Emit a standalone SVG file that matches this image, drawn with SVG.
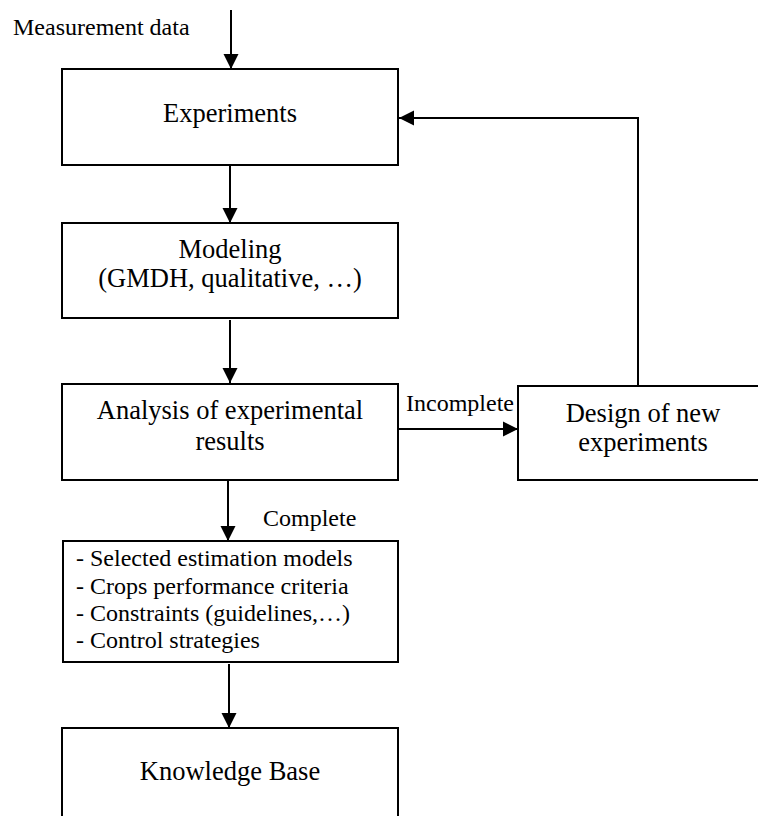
<svg xmlns="http://www.w3.org/2000/svg" width="758" height="816" viewBox="0 0 758 816">
<style>
.box{fill:#fff;stroke:#000;stroke-width:2}
.t{font-family:"Liberation Serif","Times New Roman",serif;font-size:26.5px;fill:#000;text-anchor:middle}
.l{font-family:"Liberation Serif","Times New Roman",serif;font-size:24px;fill:#000}
.c{fill:none;stroke:#000;stroke-width:2;marker-end:url(#ah)}
</style>
<defs>
<marker id="ah" markerUnits="userSpaceOnUse" markerWidth="16" markerHeight="16" refX="15" refY="8" orient="auto">
<path d="M0,0.5 L15,8 L0,15.5 Z" fill="#000"/>
</marker>
</defs>
<g id="connectors">
<line class="c" x1="231" y1="10" x2="231" y2="69"/>
<line class="c" x1="230" y1="166" x2="230" y2="223"/>
<line class="c" x1="230" y1="320" x2="230" y2="383"/>
<line class="c" x1="228" y1="481" x2="228" y2="541"/>
<line class="c" x1="229" y1="664" x2="229" y2="728"/>
<line class="c" x1="398" y1="429" x2="518" y2="429"/>
<polyline class="c" points="638,386 638,118 399,118"/>
</g>
<text class="l" x="13" y="35">Measurement data</text>
<text class="l" x="406" y="411">Incomplete</text>
<text class="l" x="263" y="526">Complete</text>
<g id="experiments">
<rect class="box" x="62" y="69" width="336" height="96"/>
<text class="t" x="230" y="122">Experiments</text>
</g>
<g id="modeling">
<rect class="box" x="62" y="223" width="336" height="95"/>
<text class="t" x="230" y="258">Modeling</text>
<text class="t" x="230" y="287">(GMDH, qualitative, …)</text>
</g>
<g id="analysis">
<rect class="box" x="62" y="384" width="336" height="96"/>
<text class="t" x="230" y="419">Analysis of experimental</text>
<text class="t" x="230" y="450">results</text>
</g>
<g id="design">
<rect class="box" x="518" y="386" width="252" height="94"/>
<text class="t" x="643" y="422">Design of new</text>
<text class="t" x="643" y="451">experiments</text>
</g>
<g id="results">
<rect class="box" x="63" y="541" width="335" height="121"/>
<text class="l" x="76" y="566">- Selected estimation models</text>
<text class="l" x="76" y="594">- Crops performance criteria</text>
<text class="l" x="76" y="621">- Constraints (guidelines,…)</text>
<text class="l" x="76" y="648">- Control strategies</text>
</g>
<g id="knowledge">
<rect class="box" x="62" y="728" width="336" height="110"/>
<text class="t" x="230" y="780">Knowledge Base</text>
</g>
</svg>
